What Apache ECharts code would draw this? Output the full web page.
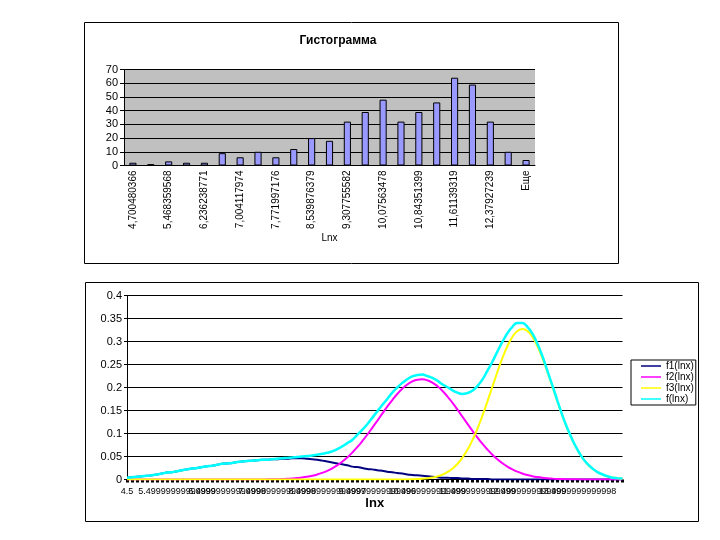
<!DOCTYPE html>
<html>
<head>
<meta charset="utf-8">
<script src="https://cdn.jsdelivr.net/npm/echarts@6/dist/echarts.min.js"></script>
<style>
  html, body { margin: 0; background: #fff; }
  #main { width: 720px; height: 540px; }
</style>
</head>
<body>
<div id="main"></div>
<script>
// histogram (top)
const binLabels = [
  "4,700480366", "5,084419967", "5,468359568", "5,85229917", "6,236238771",
  "6,620178372", "7,004117974", "7,388057575", "7,771997176", "8,155936778",
  "8,539876379", "8,92381598", "9,307755582", "9,691695183", "10,07563478",
  "10,45957439", "10,84351399", "11,22745359", "11,61139319", "11,99533279",
  "12,37927239", "12,76321199", "Еще"
];
const binCounts = [2, 1, 3, 2, 2, 9, 6, 10, 6, 12, 20, 18, 32, 39, 48, 32, 39, 46, 64, 59, 32, 10, 4];

// density curves (bottom), lnx from 4.5 step 0.1
const lnxLabels = [
  "4.5", "4.6", "4.7", "4.8", "4.9", "5", "5.1", "5.2", "5.3", "5.4",
  "5.49999999999999", "5.6", "5.7", "5.8", "5.9", "6", "6.1", "6.2", "6.3", "6.4",
  "6.49999999999998", "6.6", "6.7", "6.8", "6.9", "7", "7.1", "7.2", "7.3", "7.4",
  "7.49999999999998", "7.6", "7.7", "7.8", "7.9", "8", "8.1", "8.2", "8.3", "8.4",
  "8.49999999999997", "8.6", "8.7", "8.8", "8.9", "9", "9.1", "9.2", "9.3", "9.4",
  "9.49999999999996", "9.6", "9.7", "9.8", "9.9", "10", "10.1", "10.2", "10.3", "10.4",
  "10.4999999999999", "10.6", "10.7", "10.8", "10.9", "11", "11.1", "11.2", "11.3", "11.4",
  "11.4999999999999", "11.6", "11.7", "11.8", "11.9", "12", "12.1", "12.2", "12.3", "12.4",
  "12.4999999999999", "12.6", "12.7", "12.8", "12.9", "13", "13.1", "13.2", "13.3", "13.4",
  "13.4999999999998", "13.6", "13.7", "13.8", "13.9", "14", "14.1", "14.2", "14.3", "14.4"
];
const f1 = [
  0.004, 0.005, 0.006, 0.007, 0.008, 0.009, 0.011, 0.013, 0.015, 0.016,
  0.018, 0.020, 0.022, 0.024, 0.025, 0.027, 0.029, 0.030, 0.032, 0.034,
  0.035, 0.036, 0.038, 0.039, 0.040, 0.041, 0.042, 0.043, 0.043, 0.044,
  0.044, 0.045, 0.045, 0.046, 0.046, 0.046, 0.045, 0.044, 0.043, 0.041,
  0.039, 0.037, 0.035, 0.033, 0.031, 0.028, 0.027, 0.025, 0.023, 0.022,
  0.020, 0.019, 0.017, 0.016, 0.014, 0.013, 0.011, 0.010, 0.009, 0.008,
  0.007, 0.006, 0.005, 0.004, 0.004, 0.003, 0.003, 0.002, 0.002, 0.001,
  0.001, 0.001, 0.001, 0, 0, 0, 0, 0, 0, 0,
  0, 0, 0, 0, 0, 0, 0, 0, 0, 0,
  0, 0, 0, 0, 0, 0, 0, 0, 0, 0
];
const f2 = [
  0, 0, 0, 0, 0, 0, 0, 0, 0, 0,
  0, 0, 0, 0, 0, 0, 0, 0, 0, 0,
  0, 0, 0, 0, 0, 0, 0, 0, 0.0003, 0.0005,
  0.0007, 0.001, 0.0015, 0.0022, 0.0031, 0.0043, 0.006, 0.0081, 0.0109, 0.0145,
  0.0189, 0.0243, 0.0309, 0.0387, 0.0479, 0.0584, 0.0702, 0.0832, 0.0973, 0.1122,
  0.1276, 0.1431, 0.1583, 0.1727, 0.1859, 0.1973, 0.2065, 0.2132, 0.217, 0.218,
  0.2158, 0.2108, 0.2031, 0.1929, 0.1808, 0.1671, 0.1523, 0.1369, 0.1214, 0.1061,
  0.0915, 0.0778, 0.0653, 0.054, 0.0441, 0.0355, 0.0281, 0.022, 0.017, 0.013,
  0.0097, 0.0072, 0.0053, 0.0038, 0.0027, 0.0019, 0.0013, 0.0009, 0.0006, 0.0004,
  0.0003, 0.0002, 0.0001, 0, 0, 0, 0, 0, 0, 0
];
const f3 = [
  0, 0, 0, 0, 0, 0, 0, 0, 0, 0,
  0, 0, 0, 0, 0, 0, 0, 0, 0, 0,
  0, 0, 0, 0, 0, 0, 0, 0, 0, 0,
  0, 0, 0, 0, 0, 0, 0, 0, 0, 0,
  0, 0, 0, 0, 0, 0, 0, 0, 0, 0,
  0, 0, 0, 0, 0, 0.0001, 0.0002, 0.0005, 0.0009, 0.0015,
  0.0026, 0.0042, 0.0067, 0.0105, 0.0159, 0.0235, 0.0337, 0.0472, 0.0643, 0.0853,
  0.1101, 0.1384, 0.1693, 0.2016, 0.2337, 0.2637, 0.2897, 0.3099, 0.3227, 0.327,
  0.3227, 0.3099, 0.2897, 0.2637, 0.2337, 0.2016, 0.1693, 0.1384, 0.1101, 0.0853,
  0.0643, 0.0472, 0.0337, 0.0235, 0.0159, 0.0105, 0.0067, 0.0042, 0.0026, 0.0015
];
const fSum = [
  0.004, 0.005, 0.006, 0.007, 0.008, 0.009, 0.011, 0.013, 0.015, 0.016,
  0.018, 0.020, 0.022, 0.024, 0.025, 0.027, 0.029, 0.030, 0.032, 0.034,
  0.035, 0.036, 0.038, 0.039, 0.040, 0.041, 0.042, 0.043, 0.043, 0.044,
  0.045, 0.046, 0.047, 0.048, 0.049, 0.050, 0.051, 0.052, 0.054, 0.056,
  0.058, 0.061, 0.066, 0.072, 0.079, 0.086, 0.097, 0.108, 0.120, 0.134,
  0.148, 0.162, 0.175, 0.189, 0.200, 0.210, 0.218, 0.224, 0.227, 0.228,
  0.225, 0.221, 0.215, 0.207, 0.201, 0.194, 0.189, 0.186, 0.188, 0.193,
  0.203, 0.217, 0.236, 0.256, 0.278, 0.299, 0.318, 0.332, 0.340, 0.340,
  0.332, 0.317, 0.295, 0.268, 0.236, 0.204, 0.171, 0.139, 0.111, 0.086,
  0.065, 0.047, 0.034, 0.024, 0.016, 0.011, 0.007, 0.004, 0.003, 0.002
];

const font = "'Liberation Sans', Arial, sans-serif";
const chart = echarts.init(document.getElementById("main"));

function curve(name, data, color, width) {
  return {
    name: name,
    type: "line",
    xAxisIndex: 1,
    yAxisIndex: 1,
    data: data,
    smooth: true,
    symbol: "none",
    lineStyle: { color: color, width: width },
    itemStyle: { color: color }
  };
}

chart.setOption({
  animation: false,
  textStyle: { fontFamily: font, color: "#000" },
  graphic: [
    {
      type: "rect",
      shape: { x: 84.5, y: 22.5, width: 534, height: 241 },
      style: { fill: "none", stroke: "#000", lineWidth: 1 }
    },
    {
      type: "rect",
      shape: { x: 85.5, y: 282.5, width: 613, height: 239 },
      style: { fill: "none", stroke: "#000", lineWidth: 1 }
    },
    {
      type: "text",
      x: 338,
      y: 41,
      style: {
        text: "Гистограмма",
        font: "bold 12px " + font,
        fill: "#000",
        textAlign: "center",
        textVerticalAlign: "middle"
      }
    }
  ],
  grid: [
    { left: 124, top: 69.5, width: 411, height: 96, show: true, backgroundColor: "#c0c0c0", borderWidth: 0 },
    { left: 127, top: 295.5, width: 495.5, height: 184 }
  ],
  legend: {
    orient: "vertical",
    left: 631,
    top: 360,
    data: ["f1(lnx)", "f2(lnx)", "f3(lnx)", "f(lnx)"],
    icon: "rect",
    itemWidth: 20,
    itemHeight: 1.5,
    itemGap: 1,
    padding: [1, 2, 1, 10],
    borderColor: "#000",
    borderWidth: 1,
    backgroundColor: "#fff",
    textStyle: { fontSize: 10, color: "#000", fontFamily: font }
  },
  xAxis: [
    {
      gridIndex: 0,
      type: "category",
      data: binLabels,
      axisLine: { lineStyle: { color: "#000" } },
      axisTick: { interval: 0, length: 4, lineStyle: { color: "#000" } },
      axisLabel: { interval: 1, rotate: 90, fontSize: 10, color: "#000", margin: 5 },
      name: "Lnx",
      nameLocation: "middle",
      nameGap: 68,
      nameTextStyle: { fontSize: 10, color: "#000" }
    },
    {
      gridIndex: 1,
      type: "category",
      data: lnxLabels,
      boundaryGap: false,
      axisLine: { lineStyle: { color: "#000" } },
      axisTick: { interval: 0, length: 3, lineStyle: { color: "#000", width: 3 } },
      axisLabel: {
        interval: 9,
        showMinLabel: true,
        showMaxLabel: true,
        hideOverlap: false,
        fontSize: 9,
        color: "#000",
        margin: 8,
        formatter: (val, idx) => (idx % 10 === 0 ? val : "")
      },
      name: "lnx",
      nameLocation: "middle",
      nameGap: 12,
      nameTextStyle: { fontSize: 13, fontWeight: "bold", color: "#000" }
    }
  ],
  yAxis: [
    {
      gridIndex: 0,
      type: "value",
      min: 0,
      max: 70,
      interval: 10,
      axisLine: { show: true, lineStyle: { color: "#000" } },
      axisTick: { show: true, length: 4, lineStyle: { color: "#000" } },
      axisLabel: { fontSize: 11, color: "#000", margin: 6 },
      splitLine: { lineStyle: { color: "#000" } }
    },
    {
      gridIndex: 1,
      type: "value",
      min: 0,
      max: 0.4,
      interval: 0.05,
      axisLine: { show: true, lineStyle: { color: "#000" } },
      axisTick: { show: true, length: 3, lineStyle: { color: "#000" } },
      axisLabel: { fontSize: 11, color: "#000", margin: 5 },
      splitLine: { lineStyle: { color: "#000" } }
    }
  ],
  series: [
    {
      name: "Гистограмма",
      type: "bar",
      xAxisIndex: 0,
      yAxisIndex: 0,
      data: binCounts,
      barWidth: "40%",
      itemStyle: { color: "#9999ff", borderColor: "#000", borderWidth: 1 }
    },
    curve("f1(lnx)", f1, "#000080", 2),
    curve("f2(lnx)", f2, "#ff00ff", 2),
    curve("f3(lnx)", f3, "#ffff00", 2),
    curve("f(lnx)", fSum, "#00ffff", 2.5)
  ]
});
</script>
</body>
</html>
